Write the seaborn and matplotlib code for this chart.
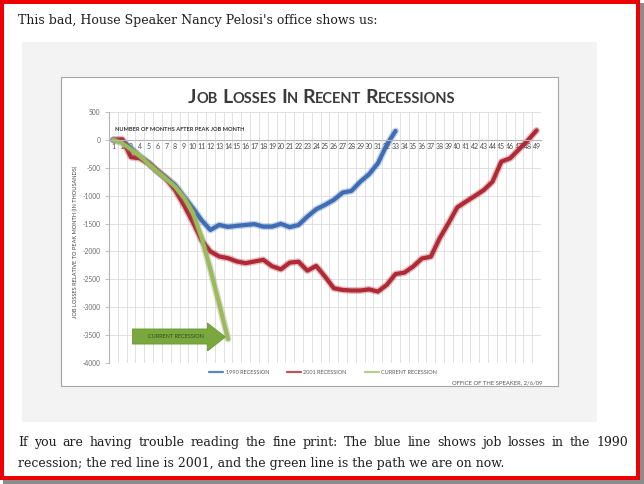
import numpy as np
import pandas as pd
import matplotlib
matplotlib.use("Agg")
import matplotlib.pyplot as plt
import matplotlib.patheffects as pe
from matplotlib.patches import Rectangle, Polygon
from matplotlib.lines import Line2D
import seaborn as sns

# job losses relative to peak month, thousands
months_1990 = list(range(1, 34))
loss_1990 = [0, -10, -150, -300, -410, -560, -680, -810, -1020, -1220, -1440,
             -1615, -1525, -1560, -1540, -1525, -1510, -1555, -1555, -1505,
             -1565, -1525, -1375, -1245, -1165, -1075, -945, -915, -750, -615,
             -420, -90, 160]

months_2001 = list(range(1, 50))
loss_2001 = [0, 10, -310, -330, -420, -560, -700, -900, -1170, -1470, -1800,
             -2000, -2090, -2120, -2180, -2210, -2180, -2150, -2265, -2320,
             -2200, -2185, -2345, -2260, -2450, -2660, -2690, -2700, -2700,
             -2680, -2720, -2600, -2405, -2380, -2270, -2125, -2095, -1765,
             -1495, -1210, -1105, -1005, -900, -750, -390, -330, -170, -10, 170]

months_current = list(range(1, 15))
loss_current = [0, -60, -170, -290, -430, -570, -700, -840, -1035, -1300,
                -1750, -2320, -2940, -3570]

series_names = ["1990 Recession", "2001 Recession", "Current Recession"]
series_colors = ["#3f6db5", "#b02a36", "#9bbb59"]
legend_labels = ["1990 RECESSION", "2001 RECESSION", "CURRENT RECESSION"]
y_ticks = list(range(-4000, 501, 500))
all_months = list(range(1, 50))

W, H = 644, 484


def fx(x):
    return x / W


def fy(y):
    return 1 - y / H


sns.set_theme(style="white")
plt.rcParams["font.family"] = ["Lato", "DejaVu Sans"]
plt.rcParams["axes.unicode_minus"] = False

fig = plt.figure(figsize=(W / 100, H / 100), dpi=100)
fig.patch.set_facecolor("white")
renderer = fig.canvas.get_renderer()


def box(x0, y0, x1, y1, **kw):
    fig.add_artist(Rectangle((fx(x0), fy(y1)), (x1 - x0) / W, (y1 - y0) / H,
                             transform=fig.transFigure, **kw))


# page frame: shadow, red border, white page, grey panel, chart box
box(3, 3, 644, 484, facecolor="#8c8c8c", edgecolor="none", zorder=-6)
box(0, 0, 640, 480, facecolor="#ee0000", edgecolor="none", zorder=-5)
box(4, 4, 636, 476, facecolor="white", edgecolor="none", zorder=-4)
box(22, 42, 597, 422, facecolor="#f3f3f3", edgecolor="none", zorder=-3)
box(61, 77, 558, 386, facecolor="white", edgecolor="#a6a6a6", lw=0.8, zorder=-2)


def small_caps(x, y, text, big, small, ha="left", **kw):
    runs = []
    for i, word in enumerate(text.split(" ")):
        if i:
            runs.append((" ", small))
        buf, cur = "", None
        for ch in word:
            s = small if ch.islower() else big
            if cur is not None and s != cur:
                runs.append((buf, cur))
                buf = ""
            buf += ch
            cur = s
        runs.append((buf, cur))
    placed, cursor = [], 0.0
    for s, size in runs:
        if s == " ":
            cursor += size * 0.3 * 100 / 72
            continue
        t = fig.text(0, fy(y), s.upper(), fontsize=size, va="baseline", ha="left", **kw)
        placed.append((t, cursor))
        cursor += t.get_window_extent(renderer).width
    start = x - cursor / 2 if ha == "center" else (x - cursor if ha == "right" else x)
    for t, off in placed:
        t.set_x(fx(start + off))


def justified(x0, x1, y, text, **kw):
    words = text.split(" ")
    objs = [fig.text(0, fy(y), w, va="baseline", ha="left", **kw) for w in words]
    widths = [o.get_window_extent(renderer).width for o in objs]
    gap = (x1 - x0 - sum(widths)) / (len(words) - 1)
    cur = x0
    for o, w in zip(objs, widths):
        o.set_x(fx(cur))
        cur += w + gap


# blog text
body = dict(family=["DejaVu Serif"], fontsize=9, color="#1e1e1e")
fig.text(fx(18), fy(24), "This bad, House Speaker Nancy Pelosi's office shows us:",
         va="baseline", **body)
justified(18, 628, 446, "If you are having trouble reading the fine print: The blue "
          "line shows job losses in the 1990", **body)
fig.text(fx(18), fy(467), "recession; the red line is 2001, and the green line is "
         "the path we are on now.", va="baseline", **body)

# chart
ax = fig.add_axes([fx(109), fy(363), (541 - 109) / W, (363 - 112) / H])
ax.set_facecolor("white")

df = pd.concat([
    pd.DataFrame({"month": months_1990, "jobs": loss_1990, "series": series_names[0]}),
    pd.DataFrame({"month": months_2001, "jobs": loss_2001, "series": series_names[1]}),
    pd.DataFrame({"month": months_current, "jobs": loss_current, "series": series_names[2]}),
])
sns.lineplot(data=df, x="month", y="jobs", hue="series", hue_order=series_names,
             palette=series_colors, linewidth=3.0, errorbar=None, legend=False, ax=ax)
glow = ["#3f6db5", "#b02a36", "#7f8f6a"]
for line, g in zip(ax.lines, glow):
    line.set_solid_capstyle("round")
    line.set_solid_joinstyle("round")
    line.set_path_effects([pe.Stroke(linewidth=5.0, foreground=g, alpha=0.3), pe.Normal()])

ax.set_xlim(0.5, 49.5)
ax.set_ylim(-4000, 500)
ax.set_yticks(y_ticks)
ax.set_yticklabels([str(v) for v in y_ticks])
ax.set_xticks(all_months)
ax.set_xticklabels([str(m) for m in all_months])
ax.set_xticks(np.arange(0.5, 50, 1), minor=True)
ax.grid(False)
ax.grid(which="minor", axis="x", color="#dcdcdc", lw=0.6)
ax.grid(which="major", axis="y", color="#dcdcdc", lw=0.6)
ax.set_axisbelow(True)
for side in ["top", "right"]:
    ax.spines[side].set_visible(False)
ax.spines["bottom"].set_position(("data", 0))
ax.spines["bottom"].set_color("#b5b5b5")
ax.spines["left"].set_color("#b5b5b5")
ax.spines["bottom"].set_linewidth(0.8)
ax.spines["left"].set_linewidth(0.8)
ax.tick_params(axis="x", which="both", length=0, labelsize=5, labelcolor="#4a4a4a", pad=2)
ax.tick_params(axis="y", which="major", left=True, length=3, width=0.6, color="#b5b5b5",
               labelsize=4.8, labelcolor="#6a6a6a", pad=3)
ax.set_xlabel("")
ax.set_ylabel("")

# arrow annotation
arrow = Polygon([(3.16, -3390), (11.67, -3390), (11.67, -3283), (13.7, -3534),
                 (11.67, -3785), (11.67, -3660), (3.16, -3660)],
                closed=True, facecolor="#7aa83e", edgecolor="#6b9935", lw=0.6, zorder=4)
ax.add_patch(arrow)
ax.text(8.1, -3525, "CURRENT RECESSION", fontsize=4, color="#2e4a18",
        ha="center", va="center", zorder=5)

# titles and labels
small_caps(322, 103, "Job Losses In Recent Recessions", 14, 10.5,
           ha="center", fontweight="bold", color="#3a3a3a")
fig.text(fx(115), fy(131), "NUMBER OF MONTHS AFTER PEAK JOB MONTH", fontsize=4.1,
         fontweight="bold", color="#333333", ha="left", va="baseline")
fig.text(fx(75), fy(242), "JOB LOSSES RELATIVE TO PEAK MONTH (IN THOUSANDS)",
         rotation=90, fontsize=4.1, color="#444444", ha="center", va="center")
fig.text(fx(542), fy(384), "OFFICE OF THE SPEAKER, 2/6/09", fontsize=4.2,
         color="#555555", ha="right", va="baseline")

handles = [Line2D([], [], color=c, lw=1.6) for c in ["#5d84c4", "#c0505b", "#b7cc8f"]]
ax.legend(handles, legend_labels, loc="center", bbox_to_anchor=(fx(323), fy(372)),
          bbox_transform=fig.transFigure, ncol=3, frameon=False, fontsize=4.0,
          handlelength=2.6, handletextpad=0.4, columnspacing=3.2, labelcolor="#555555")

fig.savefig("out.png", dpi=100, facecolor=fig.get_facecolor())
